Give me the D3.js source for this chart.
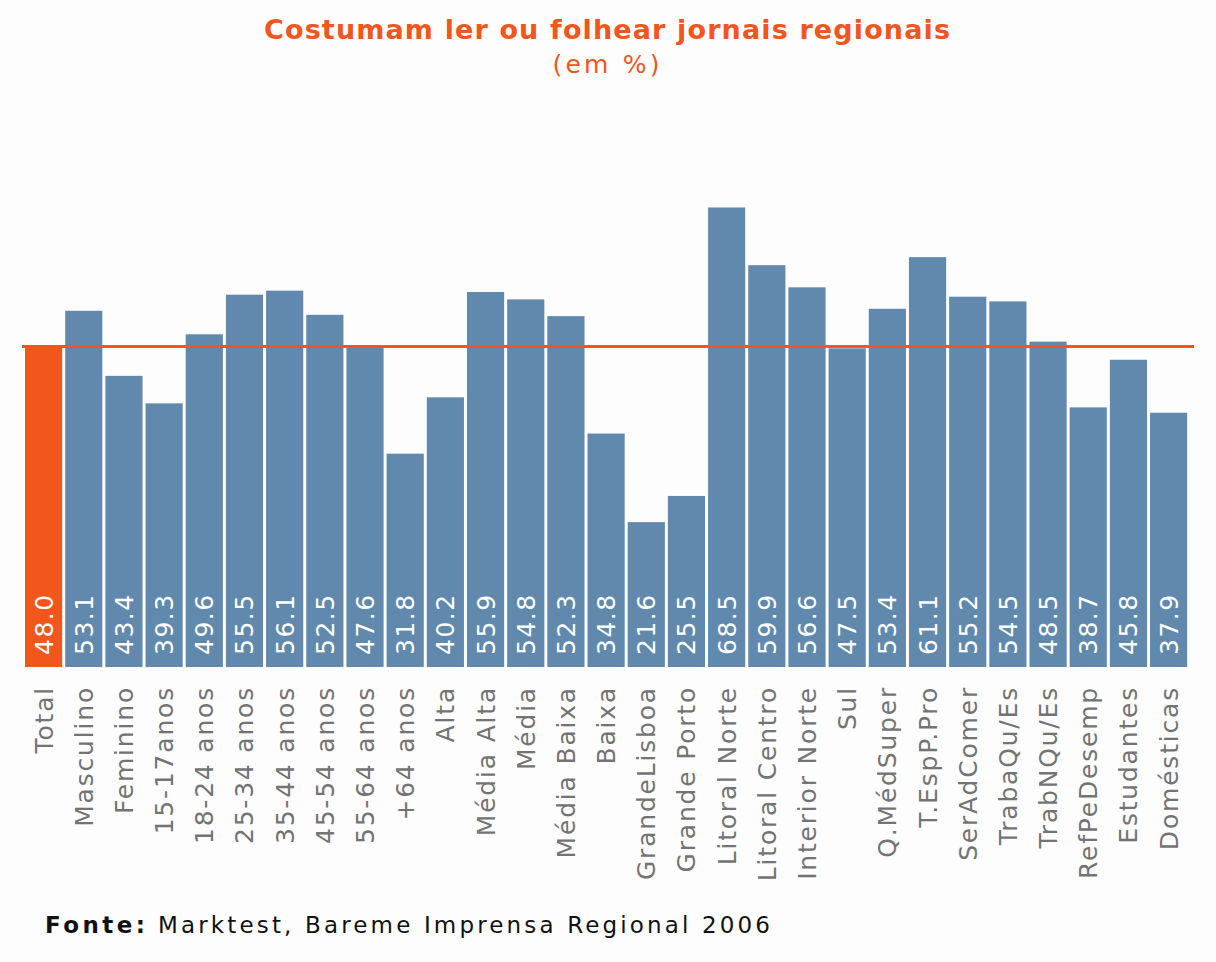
<!DOCTYPE html>
<html>
<head>
<meta charset="utf-8">
<script src="https://cdn.jsdelivr.net/npm/d3@7"></script>
<style>
  html, body { margin: 0; padding: 0; background: #fdfdfd; }
  svg { display: block; }
</style>
</head>
<body>
<svg id="chart" width="1216" height="962"></svg>
<script>
const categories = ["Total","Masculino","Feminino","15-17anos","18-24 anos","25-34 anos","35-44 anos","45-54 anos","55-64 anos","+64 anos","Alta","Média Alta","Média","Média Baixa","Baixa","GrandeLisboa","Grande Porto","Litoral Norte","Litoral Centro","Interior Norte","Sul","Q.MédSuper","T.EspP.Pro","SerAdComer","TrabaQu/Es","TrabNQu/Es","RefPeDesemp","Estudantes","Domésticas"];
const values = [48.0,53.1,43.4,39.3,49.6,55.5,56.1,52.5,47.6,31.8,40.2,55.9,54.8,52.3,34.8,21.6,25.5,68.5,59.9,56.6,47.5,53.4,61.1,55.2,54.5,48.5,38.7,45.8,37.9];
const referenceValue = 48.0;
const titleText = "Costumam ler ou folhear jornais regionais";
const subtitleText = "(em %)";
const sourceLabel = "Fonte:";
const sourceText = "Marktest, Bareme Imprensa Regional 2006";

const blue = "#6189ad", orange = "#f2561d", gray = "#737373";
const svg = d3.select("#chart");
const font = "'DejaVu Sans', Verdana, sans-serif";

const x = d3.scaleBand().domain(categories).range([25, 1187.2]).paddingInner(0.075).paddingOuter(0);
const y = d3.scaleLinear().domain([0, 48]).range([667, 345]);

// Title
svg.append("text").attr("x", 607).attr("y", 39).attr("text-anchor", "middle")
  .attr("font-family", font).attr("font-weight", "bold").attr("font-size", 27)
  .attr("fill", orange).attr("textLength", 686).attr("lengthAdjust", "spacing").text(titleText);
svg.append("text").attr("x", 606).attr("y", 73).attr("text-anchor", "middle")
  .attr("font-family", font).attr("font-size", 25)
  .attr("fill", orange).attr("textLength", 107).attr("lengthAdjust", "spacing").text(subtitleText);

const data = categories.map((c, i) => ({c, v: values[i], i}));

// Bars
svg.append("g").selectAll("rect").data(data).join("rect")
  .attr("x", d => x(d.c)).attr("width", x.bandwidth())
  .attr("y", d => y(d.v)).attr("height", d => y(0) - y(d.v))
  .attr("fill", d => d.i === 0 ? orange : blue);

// Reference line
svg.append("line").attr("x1", 22).attr("x2", 1194)
  .attr("y1", y(referenceValue) + 1.5).attr("y2", y(referenceValue) + 1.5)
  .attr("stroke", orange).attr("stroke-width", 3);

// Value labels inside bars
svg.append("g").selectAll("text").data(data).join("text")
  .attr("transform", d => `translate(${x(d.c) + x.bandwidth() / 2},655) rotate(-90)`)
  .attr("dy", "0.36em").attr("text-anchor", "start")
  .attr("font-family", font).attr("font-size", 25).attr("letter-spacing", 1.5)
  .attr("fill", "#ffffff").text(d => d.v.toFixed(1));

// Category axis labels
const xAxis = d3.axisBottom(x).tickSize(0).tickPadding(0);
const axisG = svg.append("g").attr("transform", "translate(0,667)").call(xAxis);
axisG.select(".domain").remove();
axisG.selectAll(".tick text")
  .attr("transform", "translate(0,19) rotate(-90)")
  .attr("x", 0).attr("y", 0).attr("dy", "0.36em")
  .attr("text-anchor", "end")
  .attr("font-family", font).attr("font-size", 25).attr("letter-spacing", 1.8)
  .attr("fill", gray);

// Source
svg.append("text").attr("x", 45).attr("y", 933)
  .attr("font-family", font).attr("font-weight", "bold").attr("font-size", 23)
  .attr("fill", "#111").attr("textLength", 100).attr("lengthAdjust", "spacing").text(sourceLabel);
svg.append("text").attr("x", 158).attr("y", 933)
  .attr("font-family", font).attr("font-size", 23)
  .attr("fill", "#111").attr("textLength", 612).attr("lengthAdjust", "spacing").text(sourceText);
</script>
</body>
</html>
